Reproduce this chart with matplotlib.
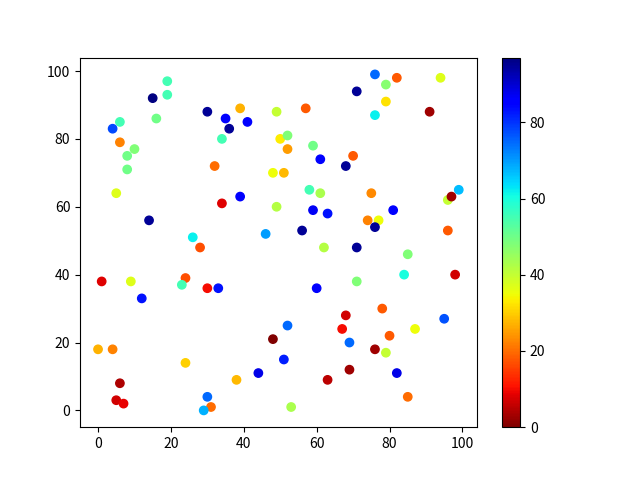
import numpy as np
import matplotlib
matplotlib.use('Agg')
import matplotlib.pyplot as plt

plt.rcParams['font.family'] = ['Noto Sans CJK SC', 'DejaVu Sans']

# point positions and colour values
x = [19, 19, 15, 16, 6, 4, 6, 10, 8, 8,
     5, 14, 26, 28, 30, 39, 35, 36, 41, 34,
     32, 34, 39, 49, 50, 52, 52, 48, 51, 49,
     46, 76, 82, 79, 94, 71, 79, 57, 91, 76,
     59, 61, 70, 68, 58, 61, 75, 99, 96, 97,
     59, 63, 81, 74, 77, 76, 56, 96, 1, 9,
     24, 23, 30, 33, 12, 0, 4, 48, 24, 44,
     38, 6, 5, 7, 30, 31, 29, 62, 71, 85,
     84, 98, 60, 71, 78, 68, 67, 52, 87, 95,
     80, 69, 76, 79, 51, 69, 82, 63, 85, 53]
y = [97, 93, 92, 86, 85, 83, 79, 77, 75, 71,
     64, 56, 51, 48, 88, 89, 86, 83, 85, 80,
     72, 61, 63, 88, 80, 81, 77, 70, 70, 60,
     52, 99, 98, 96, 98, 94, 91, 89, 88, 87,
     78, 74, 75, 72, 65, 64, 64, 65, 62, 63,
     59, 58, 59, 56, 56, 54, 53, 53, 38, 38,
     39, 37, 36, 36, 33, 18, 18, 21, 14, 11,
     9, 8, 3, 2, 4, 1, 0, 48, 48, 46,
     40, 40, 36, 38, 30, 28, 24, 25, 24, 27,
     22, 20, 18, 17, 15, 12, 11, 9, 4, 1]
c = [55, 55, 97, 50, 55, 78, 22, 48, 50, 50,
     37, 95, 62, 17, 95, 27, 85, 95, 85, 55,
     20, 8, 85, 40, 33, 48, 25, 35, 28, 42,
     70, 75, 18, 47, 37, 95, 32, 18, 3, 62,
     50, 85, 18, 95, 55, 43, 23, 67, 40, 3,
     87, 83, 85, 22, 35, 95, 95, 18, 8, 37,
     17, 55, 10, 83, 83, 27, 22, 0, 30, 88,
     28, 4, 7, 9, 75, 20, 68, 42, 95, 48,
     60, 7, 85, 48, 18, 7, 10, 75, 35, 77,
     18, 75, 3, 40, 82, 3, 88, 5, 20, 43]

fig, ax = plt.subplots(figsize=(6.4, 4.8), dpi=100)
sc = ax.scatter(x, y, c=c, cmap='jet_r')
fig.colorbar(sc, ax=ax)

fig.savefig('out.png')
